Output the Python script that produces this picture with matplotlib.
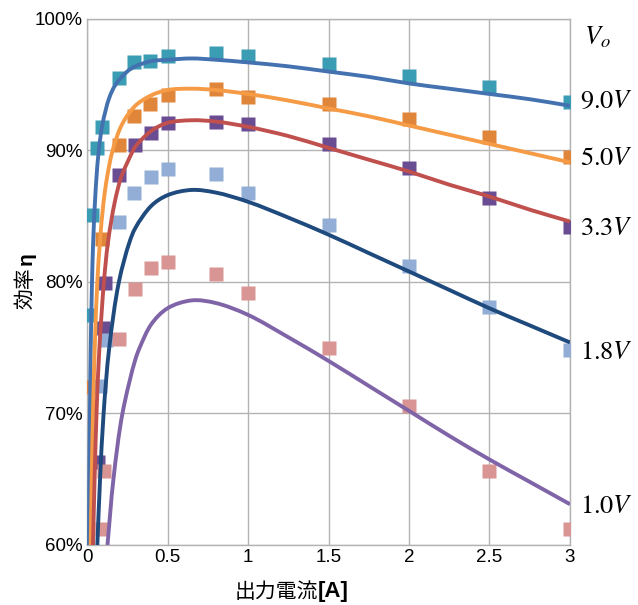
import matplotlib
matplotlib.use("Agg")
import matplotlib.pyplot as plt
import numpy as np
from matplotlib.path import Path
from matplotlib.patches import PathPatch

plt.rcParams['font.family'] = ['Liberation Sans', 'Noto Sans CJK JP', 'DejaVu Sans']
plt.rcParams['mathtext.fontset'] = 'stix'

# ---- measured points (output current [A], efficiency [%]) ----
v90_x = [0.005, 0.03, 0.06, 0.095, 0.2, 0.29, 0.39, 0.5, 0.8, 1.0, 1.5, 2.0, 2.5, 3.0]
v90_y = [77.5, 85.1, 90.2, 91.8, 95.5, 96.7, 96.8, 97.2, 97.4, 97.2, 96.6, 95.7, 94.8, 93.7]

v50_x = [0.015, 0.09, 0.2, 0.29, 0.39, 0.5, 0.8, 1.0, 1.5, 2.0, 2.5, 3.0]
v50_y = [72.0, 83.3, 90.4, 92.6, 93.5, 94.2, 94.7, 94.1, 93.5, 92.4, 91.0, 89.5]

v33_x = [0.07, 0.1, 0.11, 0.2, 0.3, 0.4, 0.5, 0.8, 1.0, 1.5, 2.0, 2.5, 3.0]
v33_y = [66.3, 76.5, 79.9, 88.1, 90.4, 91.3, 92.1, 92.2, 92.0, 90.5, 88.7, 86.4, 84.2]

v18_x = [0.08, 0.12, 0.2, 0.29, 0.4, 0.5, 0.8, 1.0, 1.5, 2.0, 2.5, 3.0]
v18_y = [72.1, 75.6, 84.6, 86.8, 88.0, 88.6, 88.2, 86.8, 84.3, 81.2, 78.1, 74.8]

v10_x = [0.09, 0.105, 0.2, 0.3, 0.4, 0.5, 0.8, 1.0, 1.5, 2.0, 2.5, 3.0]
v10_y = [61.2, 65.6, 75.7, 79.5, 81.1, 81.5, 80.6, 79.2, 75.0, 70.6, 65.6, 61.2]

# ---- model curves ----
c90_x = [0.012, 0.014, 0.018, 0.023, 0.031, 0.038, 0.049, 0.059, 0.073, 0.096, 0.138, 0.177, 0.249,
         0.3, 0.4, 0.5, 0.65, 0.8, 1.0, 1.25, 1.5, 1.75, 2.0, 2.25, 2.5, 2.75, 3.0]
c90_y = [60, 65, 70, 75, 80, 83, 86, 88, 90, 92, 94, 95, 96,
         96.4, 96.8, 96.9, 97.0, 96.9, 96.7, 96.4, 96.0, 95.6, 95.1, 94.7, 94.3, 93.9, 93.4]

c50_x = [0.023, 0.029, 0.037, 0.048, 0.064, 0.080, 0.102, 0.125, 0.159, 0.218,
         0.3, 0.4, 0.5, 0.65, 0.8, 1.0, 1.25, 1.5, 1.75, 2.0, 2.25, 2.5, 2.75, 3.0]
c50_y = [60, 65, 70, 75, 80, 83, 86, 88, 90, 92,
         93.4, 94.2, 94.6, 94.7, 94.6, 94.3, 93.8, 93.2, 92.6, 91.9, 91.2, 90.5, 89.8, 89.1]

c33_x = [0.037, 0.047, 0.059, 0.077, 0.105, 0.130, 0.171, 0.213, 0.286,
         0.3, 0.4, 0.5, 0.65, 0.8, 1.0, 1.25, 1.5, 1.75, 2.0, 2.25, 2.5, 2.75, 3.0]
c33_y = [60, 65, 70, 75, 80, 83, 86, 88, 90,
         90.3, 91.5, 92.1, 92.3, 92.2, 91.8, 91.1, 90.2, 89.3, 88.4, 87.4, 86.5, 85.5, 84.6]

c18_x = [0.064, 0.081, 0.103, 0.138, 0.198, 0.263,
         0.3, 0.4, 0.5, 0.65, 0.8, 1.0, 1.25, 1.5, 1.75, 2.0, 2.25, 2.5, 2.75, 3.0]
c18_y = [60, 65, 70, 75, 80, 83,
         84.1, 85.8, 86.6, 87.0, 86.8, 86.1, 84.9, 83.6, 82.2, 80.8, 79.4, 78.0, 76.7, 75.4]

c10_x = [0.127, 0.164, 0.220, 0.3, 0.327, 0.4, 0.5, 0.65, 0.8, 1.0, 1.25, 1.5, 1.75, 2.0, 2.25,
         2.5, 2.75, 3.0]
c10_y = [60, 65, 70, 74.1, 75, 76.8, 78.0, 78.6, 78.4, 77.5, 75.8, 74.0, 72.1, 70.2, 68.3,
         66.5, 64.8, 63.1]

labels = ['9.0', '5.0', '3.3', '1.8', '1.0']
label_y = [93.76, 89.4, 84.1, 74.7, 63.0]

x_ticks = [0, 0.5, 1, 1.5, 2, 2.5, 3]
x_ticklabels = ['0', '0.5', '1', '1.5', '2', '2.5', '3']
y_ticks = [60, 70, 80, 90, 100]
y_ticklabels = ['60%', '70%', '80%', '90%', '100%']

marker_colors = ['#3B9DB3', '#E0863A', '#6A4C93', '#93AED6', '#D99594']
line_colors = ['#4472B0', '#F59A45', '#C0504D', '#1F4A7D', '#8064A8']


def smooth_path(xs, ys, sx=3.0, sy=40.0):
    """Centripetal Catmull-Rom through the points, as cubic Bezier segments."""
    P = np.column_stack([np.asarray(xs, float) / sx, np.asarray(ys, float) / sy])
    n = len(P)
    ext = np.vstack([2 * P[0] - P[1], P, 2 * P[-1] - P[-2]])
    verts = [P[0] * [sx, sy]]
    codes = [Path.MOVETO]
    for i in range(n - 1):
        p0, p1, p2, p3 = ext[i], ext[i + 1], ext[i + 2], ext[i + 3]
        d1 = max(np.linalg.norm(p1 - p0), 1e-9) ** 0.5
        d2 = max(np.linalg.norm(p2 - p1), 1e-9) ** 0.5
        d3 = max(np.linalg.norm(p3 - p2), 1e-9) ** 0.5
        c1 = (d1 ** 2 * p2 - d2 ** 2 * p0 + (2 * d1 ** 2 + 3 * d1 * d2 + d2 ** 2) * p1) / (3 * d1 * (d1 + d2))
        c2 = (d3 ** 2 * p1 - d2 ** 2 * p3 + (2 * d3 ** 2 + 3 * d3 * d2 + d2 ** 2) * p2) / (3 * d3 * (d3 + d2))
        verts += [c1 * [sx, sy], c2 * [sx, sy], p2 * [sx, sy]]
        codes += [Path.CURVE4] * 3
    return Path(verts, codes)


fig = plt.figure(figsize=(6.38, 6.05), dpi=100)
ax = fig.add_axes([0.1364, 0.0992, 0.7570, 0.8694])

mx = [v90_x, v50_x, v33_x, v18_x, v10_x]
my = [v90_y, v50_y, v33_y, v18_y, v10_y]
cx = [c90_x, c50_x, c33_x, c18_x, c10_x]
cy = [c90_y, c50_y, c33_y, c18_y, c10_y]

for xs, ys, col in zip(mx, my, marker_colors):
    ax.plot(xs, ys, linestyle='none', marker='s', ms=10, color=col, mec='none', zorder=3)
for xs, ys, col in zip(cx, cy, line_colors):
    patch = PathPatch(smooth_path(xs, ys), facecolor='none', edgecolor=col, lw=2.8,
                      zorder=4, capstyle='butt')
    ax.add_patch(patch)

ax.set_xlim(0, 3)
ax.set_ylim(60, 100)
ax.set_xticks(x_ticks)
ax.set_xticklabels(x_ticklabels, fontsize=13.5)
ax.set_yticks(y_ticks)
ax.set_yticklabels(y_ticklabels, fontsize=13.5)
ax.tick_params(length=0, pad=3)
ax.grid(True, color='#B3B3B3', lw=1.0)
ax.set_axisbelow(True)
for s in ax.spines.values():
    s.set_color('#B3B3B3')
    s.set_linewidth(1.0)

for lab, yv in zip(labels, label_y):
    ax.text(3.06, yv, r'$%s V$' % lab, fontsize=19, va='center', ha='left', clip_on=False)
ax.text(3.09, 98.6, r'$V_o$', fontsize=19, va='center', ha='left', clip_on=False)

cjk = ['Noto Sans CJK JP', 'DejaVu Sans']
fig.text(318 / 638, 1 - 592 / 605, '出力電流', family=cjk, fontsize=15, ha='right', va='center')
fig.text(318 / 638, 1 - 592 / 605, '[A]', family=['Liberation Sans', 'DejaVu Sans'], fontsize=16,
         ha='left', va='center', weight='bold')
fig.text(25 / 638, 1 - 288 / 605, '効率', family=cjk, fontsize=15, ha='center', va='center', rotation=90)
fig.text(26 / 638, 1 - 259 / 605, 'η', family=['Liberation Sans', 'DejaVu Sans'], fontsize=15,
         ha='center', va='center', rotation=90, weight='bold')

fig.savefig('out.png', dpi=100)
